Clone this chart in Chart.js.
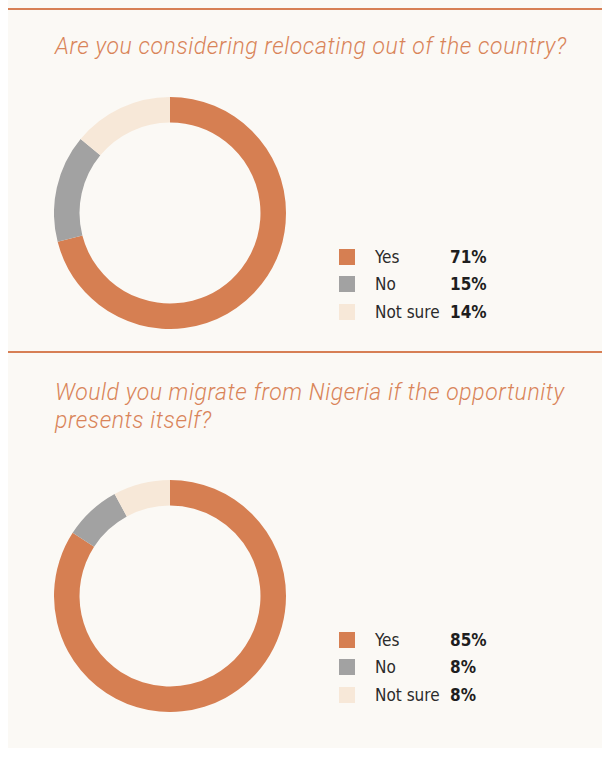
<!DOCTYPE html>
<html>
<head>
<meta charset="utf-8">
<script src="https://cdn.jsdelivr.net/npm/chart.js@4"></script>
<style>
  html, body { margin: 0; padding: 0; background: #ffffff; }
  body { width: 602px; height: 758px; position: relative; overflow: hidden; }
  .panel { position: absolute; left: 8px; top: 0; width: 594px; height: 748px; background: #fbf9f5; }
  .rule { position: absolute; left: 8px; width: 594px; height: 2px; background: #d77f55; }
  .title {
    position: absolute; left: 55px; width: 530px; margin: 0;
    font-family: Roboto, "Open Sans", sans-serif; font-style: italic; font-weight: 300;
    font-size: 23px; line-height: 28px; color: #d98459; letter-spacing: 0.55px;
  }
  .donut { position: absolute; left: 54px; }
  .legend { position: absolute; left: 339px; font-family: "Liberation Sans Narrow", "DejaVu Sans Condensed", sans-serif; }
  .row { height: 27.5px; display: flex; align-items: center; }
  .sw { width: 16px; height: 16px; margin-right: 20px; }
  .lab { width: 75px; font-size: 17px; color: #2b2b2b; }
  .val { font-size: 17px; font-weight: bold; color: #1e1e1e; }
</style>
</head>
<body>
<div class="panel"></div>
<div class="rule" style="top:8px"></div>
<div class="rule" style="top:351px"></div>

<p class="title" style="top:33px">Are you considering relocating out of the country?</p>
<canvas id="relocateChart" class="donut" style="top:97px"></canvas>
<div id="relocateLegend" class="legend" style="top:243px"></div>

<p class="title" style="top:379px">Would you migrate from Nigeria if the opportunity presents itself?</p>
<canvas id="migrateChart" class="donut" style="top:480px"></canvas>
<div id="migrateLegend" class="legend" style="top:626px"></div>

<script>
const answers = ["Yes", "No", "Not sure"];
const relocateValues = [71, 15, 14];
const migrateValues = [85, 8, 8];
const answerColors = ["#d67f52", "#a2a2a2", "#f7e8d8"];

// Legend rows: colour square, answer, bold percentage
function buildLegend(id, values) {
  const box = document.getElementById(id);
  answers.forEach((answer, i) => {
    const row = document.createElement("div");
    row.className = "row";
    row.innerHTML = `
      <span class="sw" style="background:${answerColors[i]}"></span>
      <span class="lab">${answer}</span>
      <span class="val">${values[i]}%</span>`;
    box.appendChild(row);
  });
}

function drawDonut(id, values) {
  const canvas = document.getElementById(id);
  canvas.width = 232;
  canvas.height = 232;
  new Chart(canvas, {
    type: "doughnut",
    data: {
      labels: answers,
      datasets: [
        {
          data: values,
          backgroundColor: answerColors,
          borderWidth: 0,
        },
      ],
    },
    options: {
      responsive: false,
      animation: false,
      cutout: "78%",
      layout: { padding: 0 },
      plugins: {
        legend: { display: false },
        tooltip: { enabled: false },
      },
    },
  });
}

drawDonut("relocateChart", relocateValues);
drawDonut("migrateChart", migrateValues);
buildLegend("relocateLegend", relocateValues);
buildLegend("migrateLegend", migrateValues);
</script>
</body>
</html>
